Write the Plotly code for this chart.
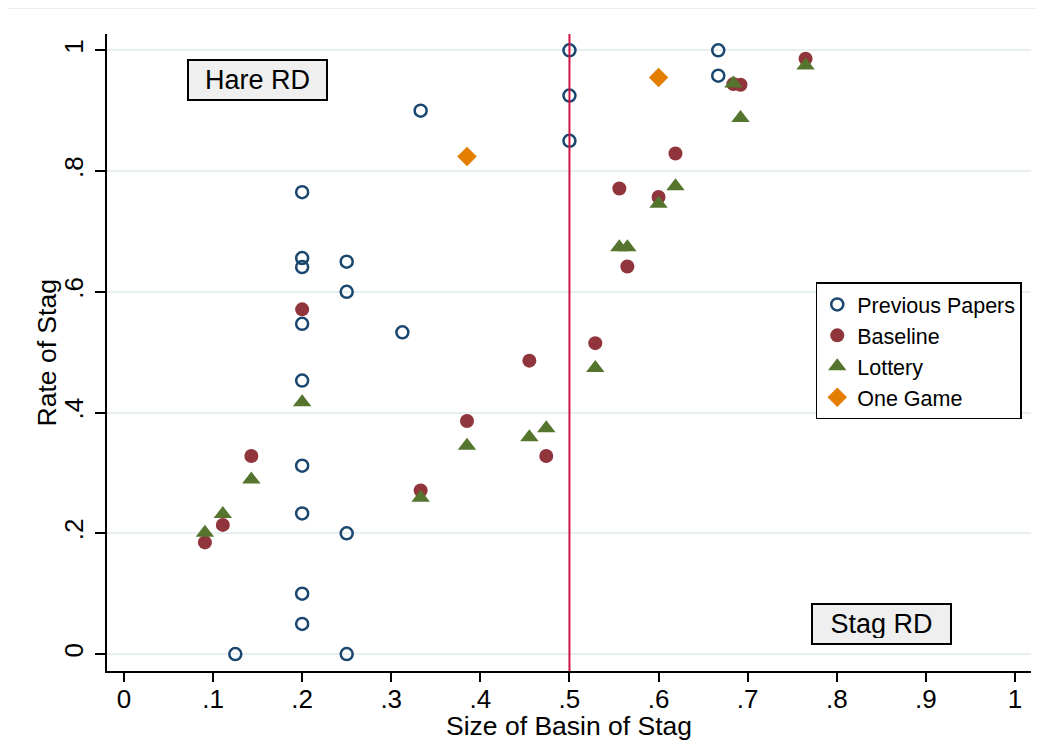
import plotly.graph_objects as go

# previous papers (hollow circles)
prev_x = [0.5, 0.5, 0.5, 0.333, 0.2, 0.2, 0.2, 0.2, 0.2, 0.2, 0.2, 0.2, 0.2,
          0.25, 0.25, 0.25, 0.25, 0.3125, 0.125, 0.667, 0.667]
prev_y = [1.0, 0.925, 0.85, 0.9, 0.765, 0.656, 0.641, 0.547, 0.453, 0.312, 0.233, 0.1, 0.05,
          0.65, 0.6, 0.2, 0.0, 0.533, 0.0, 1.0, 0.958]

# treatments share the same basin sizes
basin = [0.0909, 0.111, 0.143, 0.2, 0.333, 0.385, 0.455, 0.474, 0.529, 0.556,
         0.565, 0.6, 0.619, 0.684, 0.692, 0.765]
baseline_y = [0.185, 0.214, 0.328, 0.571, 0.271, 0.386, 0.486, 0.328, 0.515, 0.771,
              0.642, 0.757, 0.829, 0.944, 0.943, 0.986]
lottery_y = [0.201, 0.232, 0.289, 0.417, 0.259, 0.345, 0.359, 0.374, 0.474, 0.674,
             0.674, 0.746, 0.775, 0.945, 0.888, 0.975]

one_game_x = [0.385, 0.6]
one_game_y = [0.824, 0.955]

ticks_x = [0, 0.1, 0.2, 0.3, 0.4, 0.5, 0.6, 0.7, 0.8, 0.9, 1]
ticks_x_text = ["0", ".1", ".2", ".3", ".4", ".5", ".6", ".7", ".8", ".9", "1"]
ticks_y = [0, 0.2, 0.4, 0.6, 0.8, 1]
ticks_y_text = ["0", ".2", ".4", ".6", ".8", "1"]

font = "Liberation Sans, Arial, sans-serif"

fig = go.Figure()
fig.add_trace(go.Scatter(x=prev_x, y=prev_y, mode="markers", name="Previous Papers",
                         marker=dict(symbol="circle-open", size=12, color="#1a476f",
                                     line=dict(width=2.5, color="#1a476f"))))
fig.add_trace(go.Scatter(x=basin, y=baseline_y, mode="markers", name="Baseline",
                         marker=dict(symbol="circle", size=14, color="#90353b")))
fig.add_trace(go.Scatter(x=basin, y=lottery_y, mode="markers", name="Lottery",
                         marker=dict(symbol="triangle-up", size=16, color="#55752f")))
fig.add_trace(go.Scatter(x=one_game_x, y=one_game_y, mode="markers", name="One Game",
                         marker=dict(symbol="diamond", size=15, color="#e37e00")))

fig.add_shape(type="line", x0=0.5, x1=0.5, y0=0, y1=1, xref="x", yref="paper",
              line=dict(color="#cc1544", width=2), layer="above")
# faint outer frame line at the top
fig.add_shape(type="line", x0=-0.12, x1=1.02, y0=1.04, y1=1.04, xref="paper", yref="paper",
              line=dict(color="#eeeeee", width=1))

for txt, ax, ay in [("Hare RD", 0.15, 0.95), ("Stag RD", 0.85, 0.05)]:
    fig.add_annotation(x=ax, y=ay, text=txt, showarrow=False,
                       font=dict(family=font, size=27, color="black"),
                       bgcolor="#efefef", bordercolor="black", borderwidth=2,
                       borderpad=5, width=127, height=28)

# axis titles placed by hand (plotly puts them too far / too close otherwise)
fig.add_annotation(x=-0.065, y=0.5, xref="paper", yref="paper", text="Rate of Stag",
                   textangle=-90, showarrow=False, xanchor="center", yanchor="middle",
                   font=dict(family=font, size=26.5, color="black"))
fig.add_annotation(x=0.5, y=-0.087, xref="paper", yref="paper", text="Size of Basin of Stag",
                   showarrow=False, xanchor="center", yanchor="middle",
                   font=dict(family=font, size=26.5, color="black"))

fig.update_xaxes(range=[-0.019, 1.018], tickvals=ticks_x, ticktext=ticks_x_text,
                 showgrid=False, zeroline=False, showline=True, linecolor="black", linewidth=1.5,
                 ticks="outside", ticklen=9, tickwidth=1.5, tickcolor="black", ticklabelstandoff=-5,
                 tickfont=dict(family=font, size=26, color="black"), automargin=False)
fig.update_yaxes(range=[-0.028, 1.027], tickvals=ticks_y, ticktext=ticks_y_text, tickangle=-90,
                 showgrid=True, gridcolor="#e8eff1", gridwidth=1.5, zeroline=False,
                 showline=True, linecolor="black", linewidth=1.5,
                 ticks="outside", ticklen=10, tickwidth=1.5, tickcolor="black", ticklabelstandoff=2,
                 tickfont=dict(family=font, size=26, color="black"), automargin=False)

# page body adds ~8px offset, so the figure is drawn 8px smaller
fig.update_layout(
    width=1037, height=732,
    margin=dict(l=99, r=14, t=26, b=69),
    plot_bgcolor="white", paper_bgcolor="white",
    legend=dict(x=0.99, xanchor="right", y=0.61, yanchor="top",
                bordercolor="black", borderwidth=1.5, bgcolor="white",
                font=dict(family=font, size=21.5, color="black")),
)

fig.write_html("out.html")
